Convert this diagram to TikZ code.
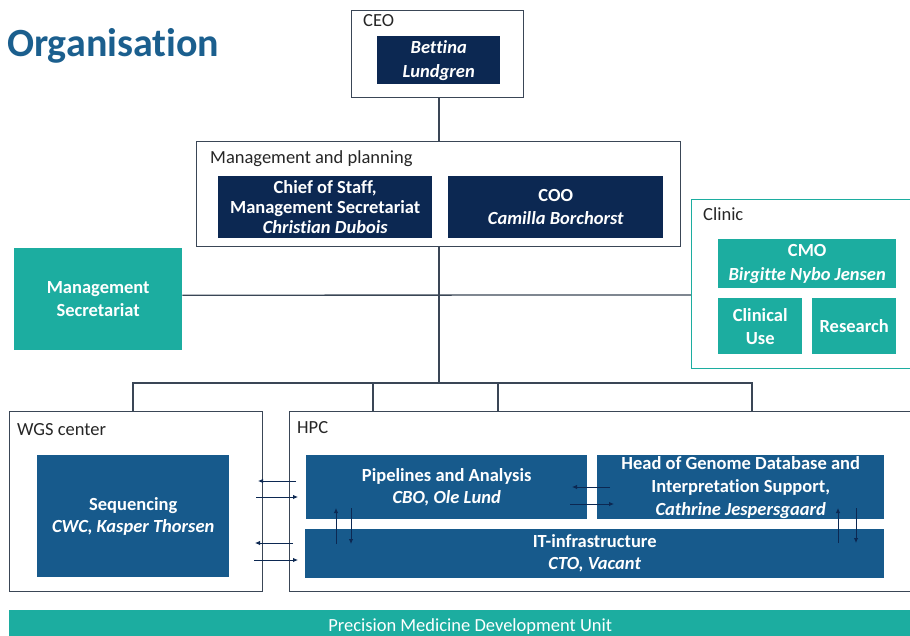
\documentclass[tikz,border=0pt]{standalone}
\usepackage{fontspec}
\setmainfont{Carlito}[Ligatures=NoCommon]
\usetikzlibrary{arrows.meta,backgrounds}
\definecolor{navy}{HTML}{0C2852}
\definecolor{midblue}{HTML}{175A8C}
\definecolor{teal}{HTML}{1CADA0}
\definecolor{titleblue}{HTML}{1B5F8E}
\definecolor{frame}{HTML}{3A4656}
\tikzset{
  group/.style={draw=frame, line width=0.9pt, fill=white, anchor=north west, inner sep=0pt},
  grouplabel/.style={anchor=north west, inner sep=0pt, font=\fontsize{18.5}{20}\selectfont, text=black!85},
  navybox/.style={fill=navy, text=white, anchor=north west, inner sep=0pt, align=center, font=\bfseries\fontsize{18.5}{20}\selectfont},
  bluebox/.style={fill=midblue, text=white, anchor=north west, inner sep=0pt, align=center, font=\bfseries\fontsize{18.5}{22}\selectfont},
  tealbox/.style={fill=teal, text=white, anchor=north west, inner sep=0pt, align=center, font=\bfseries\fontsize{18.5}{23}\selectfont},
  conn/.style={draw=frame, line width=1.3pt},
  flow/.style={draw=navy, line width=0.9pt, -{Latex[length=5pt,width=4.5pt]}},
}
\begin{document}
\begin{tikzpicture}[x=1pt,y=-1pt]
\useasboundingbox (0,0) rectangle (910,635);
% title
\node[anchor=west, inner sep=0pt, font=\bfseries\fontsize{40}{42}\selectfont, text=titleblue] (title) at (7,46) {Organisation};
% CEO
\node[group, minimum width=172, minimum height=87] (ceo) at (351,10) {};
\node[grouplabel] (ceolab) at (363,14) {CEO};
\node[navybox, font=\bfseries\fontsize{18.5}{24}\selectfont, minimum width=123, minimum height=48] (bettina) at (377,36) {\itshape Bettina\\\itshape Lundgren};
% Management
\node[group, minimum width=484, minimum height=105] (mgmt) at (196,141) {};
\node[grouplabel] (mgmtlab) at (210,150) {Management and planning};
\node[navybox, minimum width=214, minimum height=62] (cos) at (218,176) {Chief of Staff,\\Management Secretariat\\\itshape Christian Dubois};
\node[navybox, font=\bfseries\fontsize{18.5}{23}\selectfont, minimum width=215, minimum height=62] (coo) at (448,176) {COO\\\itshape Camilla Borchorst};
% Management Secretariat
\node[tealbox, minimum width=168, minimum height=102] (msec) at (14,248) {Management\\Secretariat};
% Clinic
\node[group, draw=teal, minimum width=230, minimum height=169] (clinic) at (691,199) {};
\node[grouplabel] (cliniclab) at (703,207) {Clinic};
\node[tealbox, font=\bfseries\fontsize{18.5}{24}\selectfont, minimum width=178, minimum height=49] (cmo) at (718,239) {CMO\\\itshape Birgitte Nybo Jensen};
\node[tealbox, minimum width=84, minimum height=56] (cuse) at (718,298) {Clinical\\Use};
\node[tealbox, minimum width=84, minimum height=56] (research) at (812,298) {Research};
% WGS
\node[group, minimum width=253, minimum height=180] (wgs) at (9,411) {};
\node[grouplabel] (wgslab) at (17,423) {WGS center};
\node[bluebox, minimum width=192, minimum height=122] (seq) at (37,455) {Sequencing\\\itshape CWC, Kasper Thorsen};
% HPC
\node[group, minimum width=630, minimum height=180] (hpc) at (289,411) {};
\node[grouplabel] (hpclab) at (297,421) {HPC};
\node[bluebox, minimum width=281, minimum height=64] (pipe) at (306,455) {Pipelines and Analysis\\\itshape CBO, Ole Lund};
\node[bluebox, minimum width=287, minimum height=64, font=\bfseries\fontsize{18.5}{23}\selectfont] (head) at (597,455) {Head of Genome Database and\\Interpretation Support,\\\itshape Cathrine Jespersgaard};
\node[bluebox, minimum width=579, minimum height=49] (it) at (305,529) {IT-infrastructure\\\itshape CTO, Vacant};
% bottom band
\node[fill=teal, text=white, anchor=north west, inner sep=0pt, minimum width=910, minimum height=26, font=\fontsize{18.5}{20}\selectfont] (pmdu) at (9,610) {\hspace*{12pt}\rule{0pt}{19pt}Precision Medicine Development Unit};
% connectors
\coordinate (bmid) at (439,383);
\coordinate (bl) at (133,383);
\coordinate (br) at (752,383);
\coordinate (bh) at (373,383);
\coordinate (bp) at (498,383);
\begin{scope}[on background layer]
\draw[conn] (ceo.south -| bmid) -- (mgmt.south -| bmid);
\draw[conn] (mgmt.south -| bmid) -- (bmid);
\draw[conn] (msec.east) ++(0,-4) -- (691,295);
\draw[conn] (wgs.north -| bl) -- (bl) -- (br) -- (br |- hpc.north);
\draw[conn] (bh) -- (bh |- hpc.north);
\draw[conn] (bp) -- (bp |- it.north);
\end{scope}
% flows
\draw[flow] (296,481) -- (258,481);
\draw[flow] (256,497) -- (298,497);
\draw[flow] (293,543) -- (255,543);
\draw[flow] (254,560) -- (298,560);
\draw[flow] (336,544) -- (336,508);
\draw[flow] (351,508) -- (351,544);
\draw[flow] (610,487) -- (572,487);
\draw[flow] (570,504) -- (614,504);
\draw[flow] (838,543) -- (838,508);
\draw[flow] (856,508) -- (856,543);
\end{tikzpicture}
\end{document}
